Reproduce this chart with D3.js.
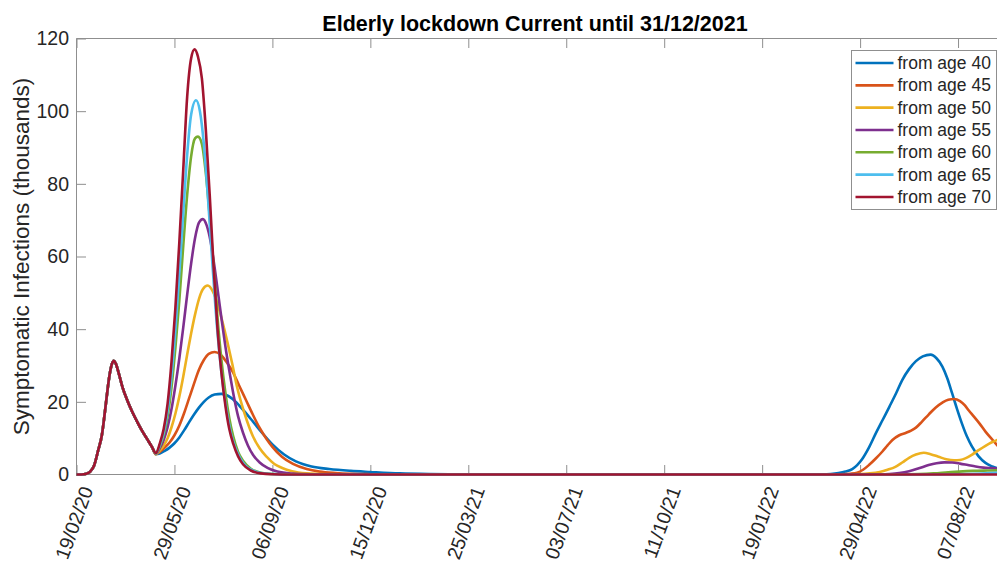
<!DOCTYPE html>
<html>
<head>
<meta charset="utf-8">
<script src="https://cdn.jsdelivr.net/npm/d3@7/dist/d3.min.js"></script>
<style>
  html, body { margin: 0; padding: 0; background: #fff; }
  svg { display: block; font-family: "Liberation Sans", Arial, Helvetica, sans-serif; }
</style>
</head>
<body>
<svg id="chart" width="997" height="563"></svg>
<script>
// ---- data -------------------------------------------------------------
const startDate = "19/02/20";          // day 0 of the simulation
const endDay = 951;                    // last simulated day shown
const tickLabels = ["19/02/20", "29/05/20", "06/09/20", "15/12/20", "25/03/21",
                    "03/07/21", "11/10/21", "19/01/22", "29/04/22", "07/08/22"];
const yTicks = [0, 20, 40, 60, 80, 100, 120];
const titleText = "Elderly lockdown Current until 31/12/2021";
const yLabelText = "Symptomatic Infections (thousands)";
const seriesNames = ["from age 40", "from age 45", "from age 50", "from age 55",
                     "from age 60", "from age 65", "from age 70"];
const seriesColors = ["#0072BD", "#D95319", "#EDB120", "#7E2F8E", "#77AC30", "#4DBEEE", "#A2142F"];

// first wave, identical for every scenario (day, thousands)
const firstWaveDays   = [0, 5, 10, 14, 18, 22, 26, 28, 30, 32, 34, 36, 38, 40, 43, 47, 52, 57, 62, 67, 72, 77];
const firstWaveValues = [0, 0.02, 0.2, 0.8, 2.5, 6.5, 11, 15, 19.5, 24, 27.8, 30.3, 31.3, 30.6, 28, 24, 20.3, 17.2, 14.5, 12, 9.8, 7.6];

// from day 81 onwards each scenario diverges: [day, thousands]
const age40 = [[81,5.6],[85,5.8],[90,6.5],[95,7.4],[100,8.6],[105,10.2],[110,12.2],[115,14.4],[120,16.5],[125,18.4],[130,20],[135,21.2],[141,22],[148,22.2],[155,21.6],[163,19.9],[171,17.5],[180,14.6],[190,11.3],[200,8.3],[212,5.5],[224,3.6],[240,2.2],[258,1.5],[280,1.0],[300,0.7],[330,0.3],[360,0.1],[400,0],[740,0],[760,0.05],[770,0.15],[778,0.4],[785,0.8],[792,1.5],[797,2.6],[802,4.2],[809,7.4],[816,11.3],[823,15],[830,18.7],[837,22.5],[843,26],[850,29],[857,31.2],[864,32.5],[872,33],[878,32],[884,29.7],[889,26.5],[894,22.3],[899,18],[904,14],[909,10.5],[914,7.8],[921,5],[928,3.2],[935,2.2],[951,1.0]];
const age45 = [[81,5.6],[85,6.2],[90,7.4],[95,8.8],[100,10.8],[105,13.5],[110,17],[115,21],[120,25],[125,28.8],[130,31.5],[135,33.2],[141,33.7],[147,33],[153,31],[160,28],[166,24.5],[173,20.5],[180,16.5],[187,12.8],[194,9.8],[200,7.6],[210,4.8],[221,2.9],[235,1.5],[248,0.8],[265,0.4],[280,0.2],[300,0.08],[330,0],[760,0],[780,0.05],[790,0.2],[797,0.5],[803,1.3],[809,2.6],[816,4.4],[823,6.4],[828,8],[833,9.5],[840,10.8],[847,11.5],[852,12.1],[857,12.9],[863,14.5],[870,16.5],[877,18.4],[884,19.8],[890,20.6],[896,20.8],[902,20.2],[907,19],[911,17.6],[916,16],[922,14],[928,11.8],[933,10.2],[937,9],[951,4.5]];
const age50 = [[81,5.6],[85,6.6],[89,8],[93,10],[97,13],[101,16.8],[105,21.5],[109,27],[113,33],[117,38.8],[121,44],[125,48.3],[129,51],[134,52],[139,50.5],[144,47],[149,42],[154,36.5],[159,30.5],[164,24],[169,19],[174,14.8],[180,10.6],[187,7.2],[194,4.9],[202,2.9],[210,1.8],[220,0.9],[235,0.3],[255,0.05],[280,0],[780,0],[800,0.1],[810,0.3],[820,0.7],[828,1.3],[836,2.1],[843,3.3],[850,4.6],[857,5.5],[865,6.0],[872,5.6],[880,4.9],[888,4.2],[896,3.9],[902,4.0],[908,4.5],[914,5.4],[921,6.7],[928,7.9],[934,8.8],[940,9.5],[951,10.6]];
const age55 = [[81,5.7],[85,7.2],[89,9.5],[93,13],[97,18],[101,24.5],[105,32],[109,40.5],[113,49.5],[117,58],[121,65],[125,69.3],[129,70.3],[133,68.5],[137,64],[141,57],[145,49],[149,41],[153,33.5],[157,27],[161,21],[165,16],[170,11.5],[175,8],[180,5.5],[187,3.3],[195,1.8],[205,0.8],[220,0.25],[240,0.05],[260,0],[800,0],[820,0.05],[830,0.15],[840,0.4],[850,0.9],[860,1.7],[870,2.6],[878,3.1],[886,3.35],[894,3.3],[902,3.0],[910,2.6],[918,2.2],[926,1.9],[934,1.75],[940,1.65],[951,1.5]];
const age60 = [[81,5.8],[85,7.7],[89,10.8],[93,16],[97,24],[101,35],[105,48],[109,63],[113,77],[117,87.5],[121,92.5],[124,93],[128,91],[132,83],[136,71],[140,57],[144,43],[148,31.5],[152,22.5],[156,15.5],[160,10.5],[165,6.2],[170,3.8],[178,1.6],[188,0.5],[200,0.12],[220,0],[840,0],[860,0.1],[875,0.3],[890,0.6],[901,0.8],[915,1.0],[930,1.1],[951,1.2]];
const age65 = [[81,5.8],[85,8],[89,11.5],[93,17.5],[97,27],[101,40],[105,55.5],[109,72],[113,88],[117,99],[122,103],[126,100],[130,91],[134,77],[138,61],[142,45.5],[146,33],[150,23.5],[154,16.5],[158,11],[162,7.5],[167,4.5],[172,2.6],[180,1.1],[190,0.35],[205,0.08],[220,0],[880,0],[900,0.05],[920,0.2],[935,0.4],[951,0.6]];
const age70 = [[81,5.9],[85,8.5],[89,12.5],[93,19.5],[97,31],[101,46],[105,64],[109,84],[113,104],[117,114.5],[120.5,117],[124,115],[128,109],[132,95],[136,77],[140,57],[144,40],[148,28],[152,19],[156,12.5],[160,8.5],[165,5],[170,2.8],[178,1.1],[188,0.3],[200,0.08],[220,0],[951,0]];
const scenarioData = [age40, age45, age50, age55, age60, age65, age70];

// ---- layout -----------------------------------------------------------
const plot = { left: 76.5, right: 1008, top: 38.5, bottom: 474.5 };
const axisColor = "#8f8f8f";
const textColor = "#262626";

const parseDate = d3.utcParse("%d/%m/%y");
const t0 = parseDate(startDate);
const dayToDate = d => new Date(t0.getTime() + d * 864e5);

const x = d3.scaleUtc()
  .domain([t0, dayToDate(endDay)])
  .range([plot.left, plot.right]);
const y = d3.scaleLinear().domain([0, 120]).range([plot.bottom, plot.top]);

const svg = d3.select("#chart");

// ---- axes box ---------------------------------------------------------
const tickDates = tickLabels.map(parseDate);
const tickLen = 9.5;

const frame = svg.append("g").attr("stroke", axisColor).attr("stroke-width", 1).attr("fill", "none");
frame.append("line").attr("x1", plot.left).attr("x2", plot.left).attr("y1", plot.top).attr("y2", plot.bottom);
frame.append("line").attr("x1", plot.left).attr("x2", plot.right).attr("y1", plot.top).attr("y2", plot.top);
frame.append("line").attr("x1", plot.left).attr("x2", plot.right).attr("y1", plot.bottom).attr("y2", plot.bottom);

// bottom axis via d3.axisBottom, ticks pointing inward
const xAxis = svg.append("g")
  .attr("transform", `translate(0,${plot.bottom})`)
  .call(d3.axisBottom(x).tickValues(tickDates).tickSizeInner(-tickLen).tickSizeOuter(0).tickFormat(""));
xAxis.select(".domain").remove();
xAxis.selectAll(".tick line").attr("stroke", axisColor);

// mirrored ticks on the top edge
const xTop = svg.append("g")
  .attr("transform", `translate(0,${plot.top})`)
  .call(d3.axisTop(x).tickValues(tickDates).tickSizeInner(-tickLen).tickSizeOuter(0).tickFormat(""));
xTop.select(".domain").remove();
xTop.selectAll(".tick line").attr("stroke", axisColor);

// rotated date labels
svg.append("g").selectAll("text")
  .data(tickDates)
  .join("text")
  .attr("transform", (d, i) => `translate(${x(d) + 17},${plot.bottom + 15}) rotate(-70)`)
  .attr("text-anchor", "end")
  .attr("font-size", 19.5)
  .attr("fill", textColor)
  .text((d, i) => tickLabels[i]);

// left axis
const yAxis = svg.append("g")
  .attr("transform", `translate(${plot.left},0)`)
  .call(d3.axisLeft(y).tickValues(yTicks).tickSizeInner(-tickLen).tickSizeOuter(0).tickPadding(7.5));
yAxis.select(".domain").remove();
yAxis.selectAll(".tick line").attr("stroke", axisColor);
yAxis.selectAll(".tick text").attr("font-size", 19.5).attr("fill", textColor)
  .attr("font-family", "Liberation Sans, Arial, sans-serif");

// axis title
svg.append("text")
  .attr("transform", `translate(28.5,${(plot.top + plot.bottom) / 2}) rotate(-90)`)
  .attr("text-anchor", "middle")
  .attr("font-size", 22.5)
  .attr("fill", textColor)
  .text(yLabelText);

// chart title
svg.append("text")
  .attr("x", 535).attr("y", 30.5)
  .attr("text-anchor", "middle")
  .attr("font-size", 21.5)
  .attr("font-weight", "bold")
  .attr("fill", "#000")
  .text(titleText);

// ---- curves -----------------------------------------------------------
const firstWave = firstWaveDays.map((d, i) => [d, firstWaveValues[i]]);
const line = d3.line()
  .x(d => x(dayToDate(d[0])))
  .y(d => y(d[1]))
  .curve(d3.curveMonotoneX);

svg.append("g").selectAll("path")
  .data(scenarioData.map(s => firstWave.concat(s)))
  .join("path")
  .attr("d", line)
  .attr("fill", "none")
  .attr("stroke", (d, i) => seriesColors[i])
  .attr("stroke-width", 2.6)
  .attr("stroke-linejoin", "round");

// ---- legend -----------------------------------------------------------
const lg = { x: 851.5, y: 50.5, w: 145, h: 159, row: 22.33, first: 12.5 };
const legend = svg.append("g");
legend.append("rect")
  .attr("x", lg.x).attr("y", lg.y).attr("width", lg.w).attr("height", lg.h)
  .attr("fill", "#fff").attr("stroke", axisColor).attr("stroke-width", 1);
const items = legend.selectAll("g.item")
  .data(seriesNames)
  .join("g")
  .attr("transform", (d, i) => `translate(${lg.x},${lg.y + lg.first + i * lg.row})`);
items.append("line")
  .attr("x1", 4).attr("x2", 42).attr("y1", 0).attr("y2", 0)
  .attr("stroke", (d, i) => seriesColors[i]).attr("stroke-width", 2.6);
items.append("text")
  .attr("x", 46).attr("dy", "0.35em")
  .attr("font-size", 17.5).attr("fill", textColor)
  .text(d => d);
</script>
</body>
</html>
